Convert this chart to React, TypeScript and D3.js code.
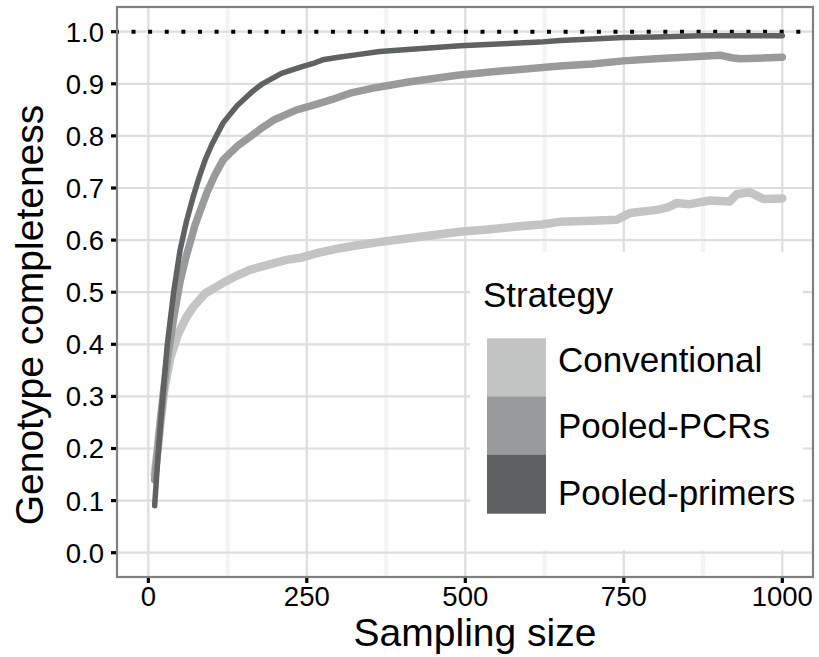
import React from "react";
import * as d3 from "d3";

const xTicks = [0, 250, 500, 750, 1000];
const xMinor = [125, 375, 625, 875];
const yTicks = [0, 0.1, 0.2, 0.3, 0.4, 0.5, 0.6, 0.7, 0.8, 0.9, 1.0];
const strategies = ["Conventional", "Pooled-PCRs", "Pooled-primers"];
const colors = ["#c3c5c4", "#999a9b", "#5e6262"];
const widths = [8.5, 7.5, 5.5];

const conventionalX = [10, 15, 20, 25, 29, 35, 47, 60, 71, 90, 118, 140, 160, 190, 218, 240, 266, 300, 330, 370, 420, 491, 540, 581, 620, 649, 700, 739, 750, 760, 802, 820, 833, 854, 886, 917, 928, 949, 970, 1000];
const conventionalY = [0.15, 0.2, 0.26, 0.31, 0.338, 0.375, 0.42, 0.452, 0.472, 0.498, 0.518, 0.532, 0.543, 0.553, 0.562, 0.566, 0.575, 0.584, 0.59, 0.597, 0.605, 0.616, 0.621, 0.626, 0.63, 0.635, 0.637, 0.639, 0.646, 0.652, 0.658, 0.663, 0.671, 0.669, 0.676, 0.674, 0.688, 0.692, 0.679, 0.68];

const pcrX = [10, 15, 20, 25, 30, 40, 50, 60, 74, 92, 105, 118, 140, 160, 180, 197, 215, 234, 255, 271, 290, 318, 360, 413, 450, 491, 560, 649, 700, 749, 800, 860, 902, 920, 933, 960, 1000];
const pcrY = [0.14, 0.2, 0.26, 0.32, 0.37, 0.45, 0.52, 0.57, 0.63, 0.69, 0.725, 0.754, 0.78, 0.798, 0.816, 0.83, 0.84, 0.85, 0.857, 0.863, 0.87, 0.882, 0.893, 0.904, 0.91, 0.917, 0.925, 0.934, 0.938, 0.944, 0.948, 0.952, 0.955, 0.95, 0.948, 0.949, 0.951];

const primersX = [10, 15, 20, 25, 30, 40, 50, 60, 70, 80, 90, 100, 118, 140, 165, 180, 210, 240, 260, 275, 300, 330, 365, 420, 492, 560, 618, 649, 700, 749, 800, 870, 940, 1000];
const primersY = [0.09, 0.18, 0.26, 0.33, 0.4, 0.5, 0.58, 0.635, 0.68, 0.72, 0.755, 0.783, 0.825, 0.858, 0.886, 0.9, 0.92, 0.932, 0.939, 0.946, 0.951, 0.956, 0.962, 0.967, 0.973, 0.977, 0.98, 0.983, 0.986, 0.989, 0.99, 0.992, 0.992, 0.992];

const seriesX = [conventionalX, pcrX, primersX];
const seriesY = [conventionalY, pcrY, primersY];

const W = 819;
const H = 657;
const panel = { left: 117, right: 813, top: 7, bottom: 577 };
const FONT = "'Liberation Sans', Arial, Helvetica, sans-serif";

export default function App() {
  const x = d3.scaleLinear().domain([0, 1000]).range([148.3, 782.3]);
  const y = d3.scaleLinear().domain([0, 1]).range([552.7, 31.7]);
  const line = d3
    .line<[number, number]>()
    .x((d) => x(d[0]))
    .y((d) => y(d[1]));

  const legendKeyTop = 338.3;
  const keyH = 58.3;
  const labelBaselines = [371.5, 437.7, 505];

  return (
    <svg
      width={W}
      height={H}
      style={{ position: "absolute", left: 0, top: 0, background: "#fff" }}
      fontFamily={FONT}
    >
      <rect x={0} y={0} width={W} height={H} fill="#fff" />
      {xMinor.map((v) => (
        <line key={"mx" + v} x1={x(v)} x2={x(v)} y1={panel.top} y2={panel.bottom} stroke="#f4f4f4" strokeWidth={4.5} />
      ))}
      {xTicks.map((v) => (
        <line key={"gx" + v} x1={x(v)} x2={x(v)} y1={panel.top} y2={panel.bottom} stroke="#dedede" strokeWidth={2.2} />
      ))}
      {yTicks.map((v) => (
        <line key={"gy" + v} x1={panel.left} x2={panel.right} y1={y(v)} y2={y(v)} stroke="#dedede" strokeWidth={2.2} />
      ))}
      <line
        x1={panel.left}
        x2={panel.right}
        y1={y(1)}
        y2={y(1)}
        stroke="#000"
        strokeWidth={4}
        strokeDasharray="4 12.62"
        strokeDashoffset={2.12}
      />
      {strategies.map((s, i) => (
        <path
          key={s}
          d={line(seriesX[i].map((v, j) => [v, seriesY[i][j]] as [number, number])) || ""}
          fill="none"
          stroke={colors[i]}
          strokeWidth={widths[i]}
          strokeLinejoin="round"
          strokeLinecap="round"
        />
      ))}
      <rect x={470} y={252} width={333} height={298} fill="#fff" />
      <text x={483} y={306.7} fontSize={35} fill="#000">
        Strategy
      </text>
      {strategies.map((s, i) => (
        <g key={"lg" + s}>
          <rect x={487} y={legendKeyTop + i * keyH} width={59} height={keyH + 0.5} fill={colors[i]} />
          <text x={558} y={labelBaselines[i]} fontSize={35} fill="#000">
            {s}
          </text>
        </g>
      ))}
      <rect
        x={panel.left}
        y={panel.top}
        width={panel.right - panel.left}
        height={panel.bottom - panel.top}
        fill="none"
        stroke="#808080"
        strokeWidth={2.2}
      />
      {yTicks.map((v) => (
        <g key={"yt" + v}>
          <line x1={111} x2={panel.left - 1} y1={y(v)} y2={y(v)} stroke="#000" strokeWidth={3.2} />
          <text x={104} y={y(v)} dy="0.36em" textAnchor="end" fontSize={27.5} fill="#000">
            {d3.format(".1f")(v)}
          </text>
        </g>
      ))}
      {xTicks.map((v) => (
        <g key={"xt" + v}>
          <line x1={x(v)} x2={x(v)} y1={panel.bottom + 1} y2={583} stroke="#000" strokeWidth={3.2} />
          <text x={x(v)} y={606} textAnchor="middle" fontSize={27.5} fill="#000">
            {v}
          </text>
        </g>
      ))}
      <text x={475} y={646} textAnchor="middle" fontSize={39} fill="#000">
        Sampling size
      </text>
      <text transform={`translate(43, 315) rotate(-90)`} textAnchor="middle" fontSize={39} fill="#000">
        Genotype completeness
      </text>
    </svg>
  );
}
